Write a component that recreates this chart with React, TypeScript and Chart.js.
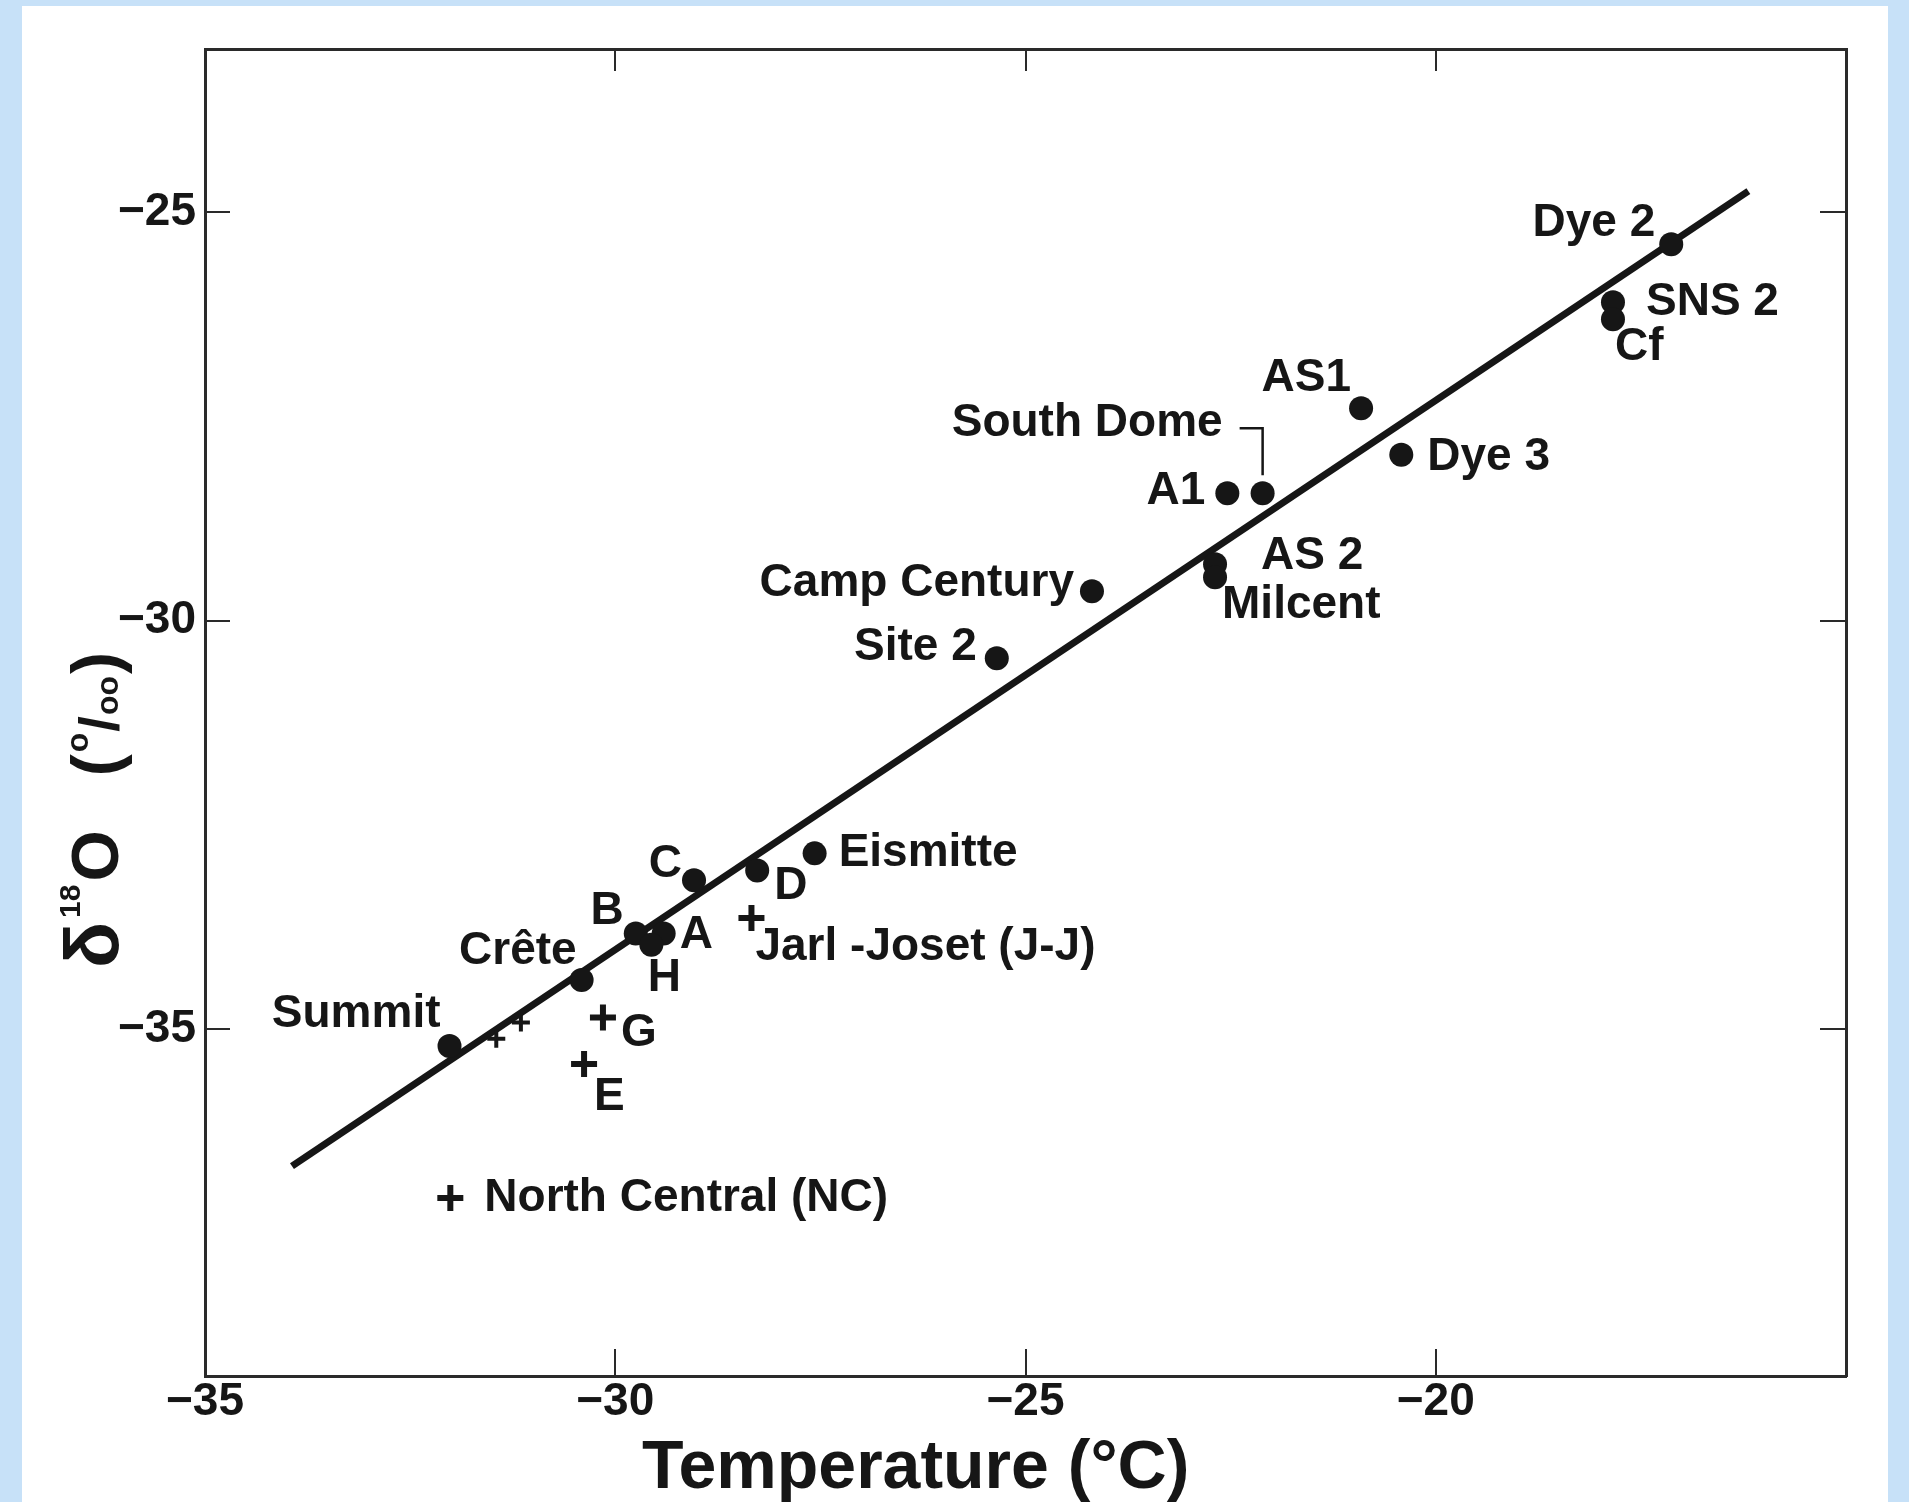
import { useEffect, useRef } from "react";
import { Chart, registerables, Plugin } from "chart.js";

Chart.register(...registerables);

// Greenland stations: mean annual temperature (°C) against δ18O (‰)
const dotNames = ["Dye 2", "SNS 2", "Cf", "AS1", "South Dome", "Dye 3", "A1", "AS 2", "Milcent", "Camp Century", "Site 2", "Eismitte", "D", "C", "B", "A", "H", "Crête", "Summit"];
const dotTemp = [-17.13, -17.84, -17.84, -20.91, -22.11, -20.42, -22.54, -22.69, -22.69, -24.19, -25.35, -27.57, -28.27, -29.04, -29.75, -29.41, -29.56, -30.41, -32.02];
const dotDelta = [-25.39, -26.1, -26.31, -27.4, -28.44, -27.97, -28.44, -29.31, -29.47, -29.64, -30.46, -32.85, -33.06, -33.18, -33.83, -33.83, -33.97, -34.4, -35.21];

const crossNames = ["Jarl -Joset (J-J)", "G", "E", "North Central (NC)"];
const crossTemp = [-28.34, -30.15, -30.38, -32.01];
const crossDelta = [-33.64, -34.86, -35.43, -37.07];

// two small unlabelled crosses sitting on the line near Summit
const minorTemp = [-31.45, -31.15];
const minorDelta = [-35.12, -34.92];

// regression line end points
const fitTemp = [-33.94, -16.19];
const fitDelta = [-36.68, -24.74];

const xTicks = [-35, -30, -25, -20];
const xTopTicks = [-30, -25, -20];
const yTicks = [-35, -30, -25];

// where each label sits relative to its marker: [align, dx, dy] in pixels
const labelPlace: Record<string, [CanvasTextAlign, number, number]> = {
  "Dye 2": ["right", -16, -21],
  "SNS 2": ["left", 33, 0],
  "Cf": ["left", 2, 28],
  "AS1": ["right", -10, -30],
  "South Dome": ["right", -40, -70],
  "Dye 3": ["left", 26, 2],
  "A1": ["right", -22, -2],
  "AS 2": ["left", 46, -8],
  "Milcent": ["left", 7, 28],
  "Camp Century": ["right", -18, -8],
  "Site 2": ["right", -20, -11],
  "Eismitte": ["left", 24, 0],
  "D": ["left", 17, 16],
  "C": ["right", -12, -16],
  "B": ["right", -12, -22],
  "A": ["left", 16, 2],
  "H": ["center", 13, 33],
  "Crête": ["right", -5, -29],
  "Summit": ["right", -9, -32],
  "Jarl -Joset (J-J)": ["left", 4, 29],
  "G": ["left", 18, 16],
  "E": ["left", 10, 33],
  "North Central (NC)": ["left", 34, 0],
};

const ink = "#161616";
const frame = "#2a2a2a";
const family = "'Liberation Sans', Arial, sans-serif";

const fmt = (v: number) => (v < 0 ? "\u2212" : "") + Math.abs(v);

const stationLabels: Plugin = {
  id: "stationLabels",
  afterDatasetsDraw(chart) {
    const ctx = chart.ctx;
    ctx.save();
    ctx.fillStyle = ink;
    ctx.font = `bold 46px ${family}`;
    ctx.textBaseline = "middle";
    const put = (dsIndex: number, names: string[]) => {
      const meta = chart.getDatasetMeta(dsIndex);
      names.forEach((name, i) => {
        const p = meta.data[i];
        const [align, dx, dy] = labelPlace[name];
        ctx.textAlign = align;
        ctx.fillText(name, p.x + dx, p.y + dy);
      });
    };
    put(1, dotNames);
    put(2, crossNames);

    // bracket from the South Dome label down to its dot
    const sd = chart.getDatasetMeta(1).data[dotNames.indexOf("South Dome")];
    ctx.strokeStyle = ink;
    ctx.lineWidth = 2.5;
    ctx.beginPath();
    ctx.moveTo(sd.x - 23, sd.y - 65);
    ctx.lineTo(sd.x, sd.y - 65);
    ctx.lineTo(sd.x, sd.y - 18);
    ctx.stroke();
    ctx.restore();
  },
};

const axisTitles: Plugin = {
  id: "axisTitles",
  afterDraw(chart) {
    const ctx = chart.ctx;
    const { left, bottom } = chart.chartArea;
    ctx.save();
    ctx.fillStyle = ink;
    ctx.textAlign = "left";
    ctx.textBaseline = "alphabetic";
    ctx.font = `bold 68px ${family}`;
    ctx.fillText("Temperature (°C)", left + 437, bottom + 112);

    // δ18O (o/oo), written bottom to top: [text, size, rise, gap after]
    ctx.translate(left - 87, bottom - 408);
    ctx.rotate(-Math.PI / 2);
    const parts: [string, number, number, number][] = [
      ["δ", 76, 0, 4],
      ["18", 30, 38, 3],
      ["O", 66, 0, 54],
      ["(", 66, 0, 2],
      ["o", 32, 30, 1],
      ["/", 56, 0, 1],
      ["oo", 32, 0, 2],
      [")", 66, 0, 0],
    ];
    let x = 0;
    parts.forEach(([t, size, rise, gap]) => {
      ctx.font = `bold ${size}px ${family}`;
      ctx.fillText(t, x, -rise);
      x += ctx.measureText(t).width + gap;
    });
    ctx.restore();
  },
};

export default function App() {
  const canvasRef = useRef<HTMLCanvasElement>(null);

  useEffect(() => {
    if (!canvasRef.current) return;
    const ctx = canvasRef.current.getContext("2d");
    if (!ctx) return;

    const tickFont = { family, size: 46, weight: "bold" as const };

    const chart = new Chart(ctx, {
      type: "scatter",
      data: {
        datasets: [
          {
            data: fitTemp.map((x, i) => ({ x, y: fitDelta[i] })),
            showLine: true,
            borderColor: ink,
            borderWidth: 7,
            pointRadius: 0,
            order: 3,
          },
          {
            data: dotTemp.map((x, i) => ({ x, y: dotDelta[i] })),
            pointStyle: "circle",
            pointRadius: 12,
            backgroundColor: ink,
            borderColor: ink,
            borderWidth: 0,
            order: 1,
          },
          {
            data: crossTemp.map((x, i) => ({ x, y: crossDelta[i] })),
            pointStyle: "cross",
            pointRadius: 13,
            borderColor: ink,
            borderWidth: 6,
            order: 1,
          },
          {
            data: minorTemp.map((x, i) => ({ x, y: minorDelta[i] })),
            pointStyle: "cross",
            pointRadius: 9,
            borderColor: ink,
            borderWidth: 4,
            order: 2,
          },
        ],
      },
      options: {
        responsive: false,
        animation: false,
        devicePixelRatio: 1,
        events: [],
        layout: { padding: 0, autoPadding: false },
        plugins: { legend: { display: false }, tooltip: { enabled: false } },
        scales: {
          x: {
            type: "linear",
            position: "bottom",
            min: -35,
            max: -15,
            afterBuildTicks: (s) => { s.ticks = xTicks.map((value) => ({ value })); },
            afterFit: (s) => { s.height = 126; s.paddingLeft = 0; s.paddingRight = 0; },
            grid: { drawOnChartArea: false, tickLength: -27, lineWidth: 2, color: frame },
            border: { color: frame, width: 3 },
            ticks: { padding: 26, color: ink, font: tickFont, callback: (v) => fmt(Number(v)) },
          },
          x2: {
            type: "linear",
            position: "top",
            min: -35,
            max: -15,
            afterBuildTicks: (s) => { s.ticks = xTopTicks.map((value) => ({ value })); },
            afterFit: (s) => { s.height = 43; s.paddingLeft = 0; s.paddingRight = 0; },
            grid: { drawOnChartArea: false, tickLength: -22, lineWidth: 2, color: frame },
            border: { color: frame, width: 3 },
            ticks: { display: false },
          },
          y: {
            type: "linear",
            position: "left",
            min: -39.25,
            max: -23,
            afterBuildTicks: (s) => { s.ticks = yTicks.map((value) => ({ value })); },
            afterFit: (s) => { s.width = 183; s.paddingTop = 0; s.paddingBottom = 0; },
            grid: { drawOnChartArea: false, tickLength: -25, lineWidth: 2, color: frame },
            border: { color: frame, width: 3 },
            ticks: { padding: 34, color: ink, font: tickFont, callback: (v) => fmt(Number(v)) },
          },
          y2: {
            type: "linear",
            position: "right",
            min: -39.25,
            max: -23,
            afterBuildTicks: (s) => { s.ticks = yTicks.map((value) => ({ value })); },
            afterFit: (s) => { s.width = 42; s.paddingTop = 0; s.paddingBottom = 0; },
            grid: { drawOnChartArea: false, tickLength: -26, lineWidth: 2, color: frame },
            border: { color: frame, width: 3 },
            ticks: { display: false },
          },
        },
      },
      plugins: [stationLabels, axisTitles],
    });

    return () => {
      chart.destroy();
    };
  }, []);

  return (
    <div style={{ position: "absolute", left: 0, top: 0, width: 1909, height: 1502, background: "#c7e1f8", overflow: "hidden" }}>
      <div style={{ position: "absolute", left: 22, top: 6, width: 1866, height: 1496, background: "#ffffff" }}>
        <canvas ref={canvasRef} width={1866} height={1496} style={{ display: "block" }} />
      </div>
    </div>
  );
}
